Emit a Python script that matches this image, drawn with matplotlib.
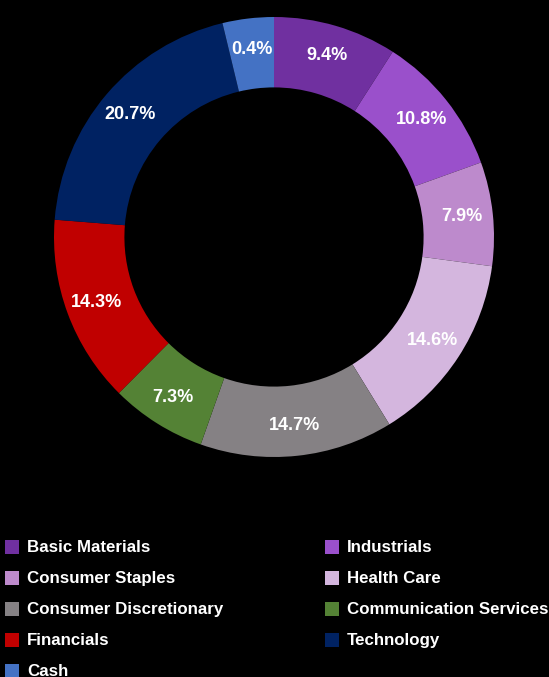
import matplotlib
matplotlib.use("Agg")
import matplotlib.pyplot as plt
from matplotlib.patches import Rectangle
import numpy as np

categories = ["Basic Materials", "Industrials", "Consumer Staples", "Health Care",
              "Consumer Discretionary", "Communication Services", "Financials",
              "Technology", "Cash"]
# drawn slice sizes (as read from the arc lengths)
values = [9.4, 10.8, 7.9, 14.6, 14.7, 7.3, 14.3, 20.7, 3.9]
# labels printed on the slices
pct_labels = ["9.4%", "10.8%", "7.9%", "14.6%", "14.7%", "7.3%", "14.3%", "20.7%", "0.4%"]
colors = ["#7030A0", "#9A50CB", "#BD8ACC", "#D4B6DE", "#858184",
          "#548235", "#C00000", "#002262", "#4472C4"]

W, H = 549, 677
fig = plt.figure(figsize=(W / 100, H / 100), dpi=100, facecolor="black")
plt.rcParams['font.family'] = ['Liberation Sans', 'DejaVu Sans']

cx, cy, R = 274, 237, 220
ax = fig.add_axes([(cx - R) / W, 1 - (cy + R) / H, 2 * R / W, 2 * R / H])
ax.set_facecolor("black")
width = 0.32
wedges, _ = ax.pie(values, colors=colors, startangle=90, counterclock=False,
                   radius=1.0, wedgeprops=dict(width=width, edgecolor="none"))
rlab = 0.86
for w, lab in zip(wedges, pct_labels):
    ang = np.deg2rad((w.theta1 + w.theta2) / 2)
    ax.text(rlab * np.cos(ang), rlab * np.sin(ang), lab, ha="center", va="center",
            color="white", fontsize=13, fontweight="bold")
ax.set_xlim(-1, 1)
ax.set_ylim(-1, 1)
ax.set_aspect("equal")
ax.axis("off")

# legend (two columns)
col_x = [5, 325]
row_y = [547, 578, 609, 640, 671]
sq = 14
for i, (cat, col) in enumerate(zip(categories, colors)):
    r, c = divmod(i, 2)
    x0 = col_x[c]
    y0 = row_y[r]
    fig.patches.append(Rectangle((x0 / W, 1 - (y0 + sq / 2) / H), sq / W, sq / H,
                                 transform=fig.transFigure, facecolor=col,
                                 edgecolor="none"))
    fig.text((x0 + 22) / W, 1 - (y0 + 0.5) / H, cat, ha="left", va="center",
             color="white", fontsize=12.2, fontweight="bold")

fig.savefig("out.png", dpi=100, facecolor="black")
